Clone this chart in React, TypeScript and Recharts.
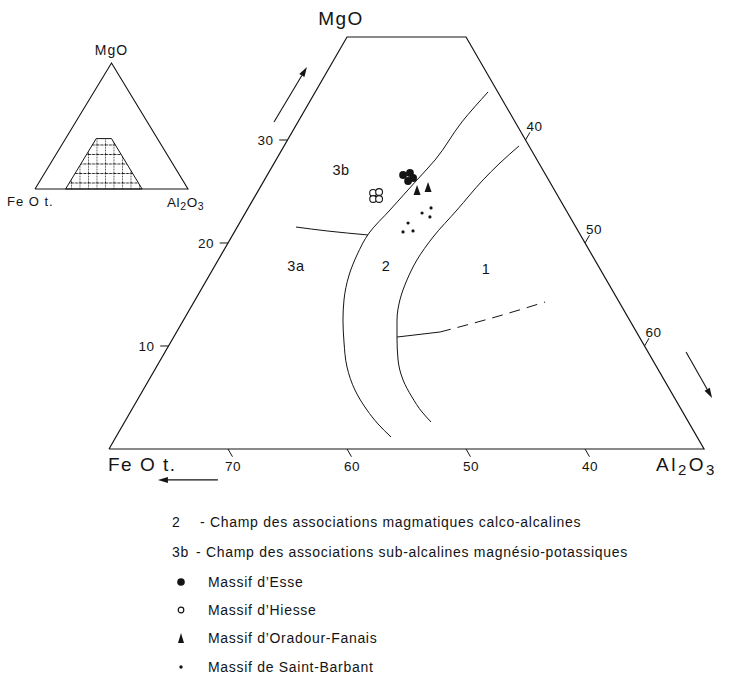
import React from 'react';
import { ScatterChart, Scatter, XAxis, YAxis } from 'recharts';

// Ternary compositions: MgO (top), FeO t. (left), Al2O3 = 100 - MgO - FeO (right)
type Comp = { mg: number; fe: number; label?: string };

const fieldOutline: Comp[] = [
  { mg: 0, fe: 80 }, { mg: 40, fe: 40 }, { mg: 40, fe: 30 }, { mg: 0, fe: 30 }, { mg: 0, fe: 80 },
];
const fullTriangle: Comp[] = [
  { mg: 0, fe: 100 }, { mg: 100, fe: 0 }, { mg: 0, fe: 0 }, { mg: 0, fe: 100 },
];
const boundary2vs3: Comp[] = [
  { mg: 34.66, fe: 30.82 }, { mg: 31.75, fe: 34.47 }, { mg: 28.06, fe: 38.57 }, { mg: 26.12, fe: 41.06 },
  { mg: 23.2, fe: 44.79 }, { mg: 20.97, fe: 47.66 }, { mg: 18.84, fe: 49.74 }, { mg: 16.89, fe: 51.38 },
  { mg: 14.47, fe: 53.02 }, { mg: 12.52, fe: 54.08 }, { mg: 10.39, fe: 55.06 }, { mg: 7.96, fe: 56.02 },
  { mg: 5.73, fe: 56.47 }, { mg: 3.79, fe: 56.43 }, { mg: 2.43, fe: 56.18 }, { mg: 1.17, fe: 55.72 },
];
const boundary1vs2: Comp[] = [
  { mg: 29.42, fe: 30.84 }, { mg: 27.77, fe: 33.26 }, { mg: 26.12, fe: 35.51 }, { mg: 23.2, fe: 39.16 },
  { mg: 20.58, fe: 42.48 }, { mg: 18.35, fe: 44.95 }, { mg: 16.41, fe: 46.76 }, { mg: 14.47, fe: 48.32 },
  { mg: 12.52, fe: 49.54 }, { mg: 10.78, fe: 50.41 }, { mg: 8.64, fe: 51.39 }, { mg: 6.7, fe: 51.94 },
  { mg: 5.05, fe: 52.02 }, { mg: 3.59, fe: 51.9 }, { mg: 2.62, fe: 51.63 },
];
const boundary3aVs3b: Comp[] = [
  { mg: 21.55, fe: 53.51 }, { mg: 21.17, fe: 51.1 }, { mg: 20.78, fe: 47.85 },
];
const boundaryField1Solid: Comp[] = [
  { mg: 10.87, fe: 50.36 }, { mg: 11.36, fe: 46.5 },
];
const boundaryField1Dashed: Comp[] = [
  { mg: 11.36, fe: 46.5 }, { mg: 12.72, fe: 41.45 }, { mg: 14.27, fe: 36.22 },
];

const esse: Comp[] = [
  { mg: 26.6, fe: 41.99 }, { mg: 26.8, fe: 41.31 }, { mg: 26.31, fe: 41.29 }, { mg: 26.02, fe: 41.86 },
];
const hiesse: Comp[] = [
  { mg: 24.86, fe: 45.38 }, { mg: 24.95, fe: 44.83 }, { mg: 24.27, fe: 45.67 }, { mg: 24.27, fe: 45.17 },
];
const oradourFanais: Comp[] = [
  { mg: 25.05, fe: 41.59 }, { mg: 25.34, fe: 40.52 },
];
const saintBarbant: Comp[] = [
  { mg: 23.4, fe: 41.24 }, { mg: 22.91, fe: 42.24 }, { mg: 22.53, fe: 41.77 },
  { mg: 21.94, fe: 43.9 }, { mg: 21.07, fe: 44.76 }, { mg: 21.17, fe: 43.87 },
];

const mgoTicks = [10, 20, 30];
const al2o3Ticks = [40, 50, 60];
const feoTicks = [70, 60, 50, 40];

const fieldLabels: Comp[] = [
  { label: '3b', mg: 27.09, fe: 46.96 },
  { label: '3a', mg: 17.77, fe: 55.41 },
  { label: '2', mg: 17.77, fe: 47.84 },
  { label: '1', mg: 17.48, fe: 39.58 },
];
const arrows: Comp[][] = [
  [{ mg: 31.75, fe: 50.26 }, { mg: 37.09, fe: 44.82 }],
  [{ mg: 9.42, fe: 26.8 }, { mg: 4.95, fe: 26.85 }],
  [{ mg: -3.0, fe: 72.35 }, { mg: -3.0, fe: 77.39 }],
];

const legendFields = [
  { key: '2', text: '- Champ des associations magmatiques calco-alcalines' },
  { key: '3b', text: '- Champ des associations sub-alcalines magnésio-potassiques' },
];
const seriesNames = ['Massif d’Esse', 'Massif d’Hiesse', 'Massif d’Oradour-Fanais', 'Massif de Saint-Barbant'];

// ---------- helpers ----------
const toXY = (c: Comp) => ({ ...c, x: 100 - c.fe - c.mg / 2, y: c.mg });
const pts = (a: Comp[]) => a.map(toXY);

const INK = '#141414';
const FONT = '"Liberation Sans", Arial, Helvetica, sans-serif';
const MAIN_X: [number, number] = [10.84, 73.61];
const MAIN_Y: [number, number] = [-22.62, 43.59];
const INSET_X: [number, number] = [-22.88, 127.45];
const INSET_Y: [number, number] = [-32.54, 150];

const none = () => <g />;

const tickData = [
  ...mgoTicks.flatMap((t) => [{ mg: t, fe: 80 - t }, { mg: t, fe: 80 - t + 0.7 }]),
  ...feoTicks.flatMap((t) => [{ mg: 0, fe: t }, { mg: -0.75, fe: t }]),
  ...al2o3Ticks.flatMap((t) => [{ mg: 70 - t, fe: 30 }, { mg: 70 - t + 0.75, fe: 29.25 }]),
];

const segments = (p: any) => {
  const ps = p.points || [];
  const out: any[] = [];
  for (let i = 0; i + 1 < ps.length; i += 2) {
    out.push(<line key={i} x1={ps[i].x} y1={ps[i].y} x2={ps[i + 1].x} y2={ps[i + 1].y} stroke={INK} strokeWidth={1} />);
  }
  return <g>{out}</g>;
};

const arrowLine = (p: any) => {
  const ps = p.points || [];
  if (ps.length < 2) return <g />;
  const a = ps[0];
  const b = ps[ps.length - 1];
  const ang = Math.atan2(b.y - a.y, b.x - a.x);
  const L = 10, hw = 3;
  const bx = b.x - L * Math.cos(ang), by = b.y - L * Math.sin(ang);
  const nx = -Math.sin(ang) * hw, ny = Math.cos(ang) * hw;
  return (
    <g>
      <line x1={a.x} y1={a.y} x2={bx} y2={by} stroke={INK} strokeWidth={1.1} />
      <polygon points={`${b.x},${b.y} ${bx + nx},${by + ny} ${bx - nx},${by - ny}`} fill={INK} />
    </g>
  );
};

const textShape = (size: number, dx: number, dy: number, anchor: string = 'middle', spacing = 0) => (p: any) => (
  <text x={p.cx + dx} y={p.cy + dy} fontSize={size} fontFamily={FONT} fill={INK} textAnchor={anchor as any} letterSpacing={spacing}>
    {p.payload.label}
  </text>
);

const hatchPolygon = (p: any) => {
  const ps = p.points || [];
  const poly = ps.map((q: any) => `${q.x},${q.y}`).join(' ');
  return (
    <g>
      <defs>
        <pattern id="insetHatch" width={8.5} height={9.5} patternUnits="userSpaceOnUse" x={3} y={2}>
          <line x1={0} y1={0.5} x2={8.5} y2={0.5} stroke={INK} strokeWidth={0.9} strokeDasharray="3 1" />
          <line x1={0.5} y1={0} x2={0.5} y2={9.5} stroke={INK} strokeWidth={0.8} strokeDasharray="1.5 1.2" />
        </pattern>
      </defs>
      <polygon points={poly} fill="url(#insetHatch)" stroke={INK} strokeWidth={1} />
    </g>
  );
};

const lineStyle = { stroke: INK, strokeWidth: 1 };

export default function App() {
  const sym = (i: number) => {
    if (i === 0) return <circle cx={6} cy={6} r={3.8} fill={INK} />;
    if (i === 1) return <circle cx={6} cy={6} r={2.8} fill="none" stroke={INK} strokeWidth={1.2} />;
    if (i === 2) return <polygon points="6,1 9,11 3,11" fill={INK} />;
    return <circle cx={6} cy={6} r={1.7} fill={INK} />;
  };
  const legendY = [522, 552, 582, 610, 638, 667];
  return (
    <div style={{ position: 'absolute', left: 0, top: 0, width: 747, height: 682, background: '#fff', fontFamily: FONT, color: INK, overflow: 'hidden' }}>
      <div style={{ position: 'absolute', left: 0, top: 0 }}>
        <ScatterChart width={747} height={682} margin={{ top: 0, right: 0, bottom: 0, left: 0 }}>
          <XAxis type="number" dataKey="x" domain={MAIN_X} hide allowDataOverflow />
          <YAxis type="number" dataKey="y" domain={MAIN_Y} hide allowDataOverflow />
          <Scatter data={pts(fieldOutline)} fill={INK} line={{ stroke: INK, strokeWidth: 1.2 }} shape={none} isAnimationActive={false} />
          <Scatter data={pts(tickData)} fill={INK} line={segments} shape={none} isAnimationActive={false} />
          <Scatter data={pts(boundary2vs3)} fill={INK} line={lineStyle} lineJointType="monotoneY" shape={none} isAnimationActive={false} />
          <Scatter data={pts(boundary1vs2)} fill={INK} line={lineStyle} lineJointType="monotoneY" shape={none} isAnimationActive={false} />
          <Scatter data={pts(boundary3aVs3b)} fill={INK} line={lineStyle} lineJointType="monotoneX" shape={none} isAnimationActive={false} />
          <Scatter data={pts(boundaryField1Solid)} fill={INK} line={lineStyle} shape={none} isAnimationActive={false} />
          <Scatter data={pts(boundaryField1Dashed)} fill={INK} line={{ ...lineStyle, strokeDasharray: '11 7' }} lineJointType="monotoneX" shape={none} isAnimationActive={false} />
          {arrows.map((a, i) => (
            <Scatter key={'arr' + i} data={pts(a)} fill={INK} line={arrowLine} shape={none} isAnimationActive={false} />
          ))}
          <Scatter data={pts(hiesse)} fill="none" isAnimationActive={false}
            shape={(p: any) => <circle cx={p.cx} cy={p.cy} r={3.4} fill="#fff" stroke={INK} strokeWidth={1.1} />} />
          <Scatter data={pts(esse)} fill={INK} isAnimationActive={false}
            shape={(p: any) => <circle cx={p.cx} cy={p.cy} r={3.9} fill={INK} />} />
          <Scatter data={pts(oradourFanais)} fill={INK} isAnimationActive={false}
            shape={(p: any) => <polygon points={`${p.cx},${p.cy - 6} ${p.cx + 3.5},${p.cy + 4} ${p.cx - 3.5},${p.cy + 4}`} fill={INK} />} />
          <Scatter data={pts(saintBarbant)} fill={INK} isAnimationActive={false}
            shape={(p: any) => <circle cx={p.cx} cy={p.cy} r={1.6} fill={INK} />} />
          <Scatter data={pts(fieldLabels)} fill={INK} shape={textShape(14.5, 0, 5, 'middle', 0.5)} isAnimationActive={false} />
          <Scatter data={pts(mgoTicks.map((t) => ({ mg: t, fe: 80 - t, label: String(t) })))} fill={INK} shape={textShape(13.5, -22, 5, 'middle', 0.5)} isAnimationActive={false} />
          <Scatter data={pts(feoTicks.map((t) => ({ mg: 0, fe: t, label: String(t) })))} fill={INK} shape={textShape(13.5, 5, 22, 'middle', 0.5)} isAnimationActive={false} />
          <Scatter data={pts(al2o3Ticks.map((t) => ({ mg: 70 - t, fe: 30, label: String(t) })))} fill={INK} shape={textShape(13.5, 9, -9, 'middle', 0.5)} isAnimationActive={false} />
          <Scatter data={pts([{ mg: 40, fe: 40, label: 'MgO' }])} fill={INK} isAnimationActive={false}
            shape={(p: any) => <text x={p.cx - 6} y={p.cy - 12} fontSize={19} fontFamily={FONT} fill={INK} textAnchor="middle" letterSpacing={1.5}>MgO</text>} />
          <Scatter data={pts([{ mg: 0, fe: 80, label: 'Fe O t.' }])} fill={INK} isAnimationActive={false}
            shape={(p: any) => <text x={p.cx - 1} y={p.cy + 22} fontSize={19} fontFamily={FONT} fill={INK} letterSpacing={1.5}>Fe O t.</text>} />
          <Scatter data={pts([{ mg: 0, fe: 30, label: 'Al2O3' }])} fill={INK} isAnimationActive={false}
            shape={(p: any) => (
              <text x={p.cx - 48} y={p.cy + 22} fontSize={19} fontFamily={FONT} fill={INK} letterSpacing={2.5}>
                Al<tspan dy={4} fontSize={15}>2</tspan><tspan dy={-4}>O</tspan><tspan dy={4} fontSize={15}>3</tspan>
              </text>
            )} />
        </ScatterChart>
      </div>
      <div style={{ position: 'absolute', left: 0, top: 0 }}>
        <ScatterChart width={230} height={230} margin={{ top: 0, right: 0, bottom: 0, left: 0 }}>
          <XAxis type="number" dataKey="x" domain={INSET_X} hide allowDataOverflow />
          <YAxis type="number" dataKey="y" domain={INSET_Y} hide allowDataOverflow />
          <Scatter data={pts(fieldOutline)} fill={INK} line={hatchPolygon} shape={none} isAnimationActive={false} />
          <Scatter data={pts(fullTriangle)} fill={INK} line={{ stroke: INK, strokeWidth: 1.1 }} shape={none} isAnimationActive={false} />
          <Scatter data={pts([{ mg: 100, fe: 0, label: 'MgO' }])} fill={INK} shape={textShape(14, 0, -8, 'middle', 1)} isAnimationActive={false} />
          <Scatter data={pts([{ mg: 0, fe: 100, label: 'Fe O t.' }])} fill={INK} shape={textShape(13, -28, 17, 'start', 1)} isAnimationActive={false} />
          <Scatter data={pts([{ mg: 0, fe: 0, label: 'Al2O3' }])} fill={INK} isAnimationActive={false}
            shape={(p: any) => (
              <text x={p.cx - 21} y={p.cy + 18} fontSize={13.5} fontFamily={FONT} fill={INK} letterSpacing={0.6}>
                Al<tspan dy={3} fontSize={10.5}>2</tspan><tspan dy={-3}>O</tspan><tspan dy={3} fontSize={10.5}>3</tspan>
              </text>
            )} />
        </ScatterChart>
      </div>
      {legendFields.map((r, i) => (
        <div key={r.key} style={{ position: 'absolute', left: 172, top: legendY[i] - 9, fontSize: 14, lineHeight: '18px', whiteSpace: 'nowrap', letterSpacing: 0.7 }}>
          <span style={{ display: 'inline-block', width: r.key === '2' ? 28 : 24 }}>{r.key}</span>{r.text}
        </div>
      ))}
      {seriesNames.map((n, i) => (
        <div key={n} style={{ position: 'absolute', left: 175, top: legendY[i + 2] - 9, fontSize: 14, lineHeight: '18px', whiteSpace: 'nowrap', letterSpacing: 0.7, display: 'flex', alignItems: 'center' }}>
          <svg width={12} height={12} style={{ marginRight: 21 }}>{sym(i)}</svg>
          <span>{n}</span>
        </div>
      ))}
    </div>
  );
}
